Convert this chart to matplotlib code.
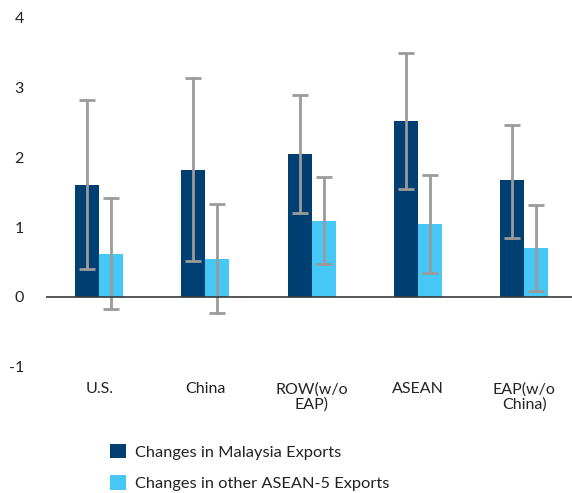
import matplotlib
matplotlib.use("Agg")
import matplotlib.pyplot as plt
import numpy as np

categories = ["U.S.", "China", "ROW(w/o\nEAP)", "ASEAN", "EAP(w/o\nChina)"]
malaysia = [1.60, 1.82, 2.04, 2.51, 1.67]
malaysia_lo = [0.40, 0.52, 1.20, 1.54, 0.85]
malaysia_hi = [2.81, 3.13, 2.88, 3.49, 2.46]
others = [0.61, 0.54, 1.08, 1.04, 0.70]
others_lo = [-0.17, -0.23, 0.47, 0.35, 0.09]
others_hi = [1.41, 1.33, 1.71, 1.74, 1.31]
series_names = ["Changes in Malaysia Exports", "Changes in other ASEAN-5 Exports"]
yticks = [-1, 0, 1, 2, 3, 4]

plt.rcParams['font.family'] = ['Lato', 'DejaVu Sans']

W, H = 572, 493
fig = plt.figure(figsize=(W/100, H/100), dpi=100)
ax = fig.add_axes([46/W, 1-367/H, 1-46/W, (367-17)/H])

x = np.arange(len(categories))
bw = 0.226
c1, c2 = "#003F72", "#45C8F5"
ecol = "#9B9B9B"

m = np.array(malaysia); o = np.array(others)
err_m = [m - np.array(malaysia_lo), np.array(malaysia_hi) - m]
err_o = [o - np.array(others_lo), np.array(others_hi) - o]

b1 = ax.bar(x - bw/2, m, bw, color=c1, label=series_names[0], zorder=2)
b2 = ax.bar(x + bw/2, o, bw, color=c2, label=series_names[1], zorder=2)
ax.errorbar(x - bw/2, m, yerr=err_m, fmt='none', ecolor=ecol, elinewidth=2, capsize=6, capthick=2, zorder=3)
ax.errorbar(x + bw/2, o, yerr=err_o, fmt='none', ecolor=ecol, elinewidth=2, capsize=6, capthick=2, zorder=3)

ax.axhline(0, color="#3a3a3a", lw=1.2, zorder=4)

ax.set_xlim(-0.5, 4.45)
ax.set_ylim(-1, 4)
ax.set_yticks(yticks)
ax.set_yticklabels([str(t) for t in yticks], fontsize=11.5)
ax.set_xticks(x)
ax.set_xticklabels(categories, fontsize=11.5, linespacing=1.1)
for s in ax.spines.values():
    s.set_visible(False)
ax.tick_params(axis='y', length=0, pad=16, colors='#222222')
ax.tick_params(axis='x', length=0, pad=11, colors='#222222')
for lab in ax.get_yticklabels():
    lab.set_horizontalalignment('right')

fig.legend(handles=[b1, b2], labels=series_names, loc='upper left',
           bbox_to_anchor=(95/W, 1-429/H), frameon=False, fontsize=11.8,
           handlelength=1.0, handleheight=1.0, handletextpad=0.55, labelspacing=0.95,
           labelcolor='#222222')

fig.savefig("out.png", dpi=100)
